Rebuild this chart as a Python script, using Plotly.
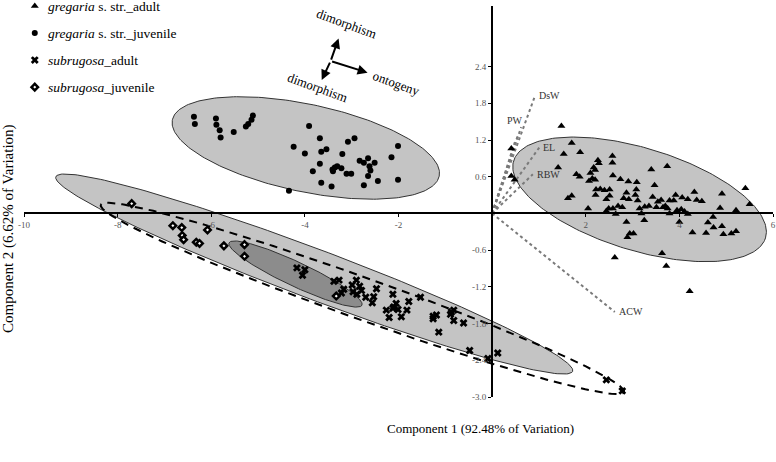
import numpy as np
import plotly.graph_objects as go

# --- PCA scores -------------------------------------------------------------
greg_adult_x = [1.48, 1.70, 1.88, 1.53, 2.26, 2.28, 2.57, 2.57, 2.17, 2.20, 2.10, 1.80, 1.87, 2.14,
                2.07, 2.20, 2.58, 2.74, 2.91, 3.09, 2.22, 2.31, 2.40, 2.51, 2.21, 2.51, 2.44, 2.87,
                3.08, 3.06, 3.11, 2.81, 2.92, 3.40, 3.74, 3.47, 1.62, 1.70, 2.05, 2.44, 2.49, 2.58,
                2.69, 2.78, 2.64, 3.15, 3.26, 3.35, 3.19, 3.43, 3.54, 3.61, 3.51, 3.65, 3.70, 3.75,
                3.79, 3.88, 3.92, 4.06, 4.18, 4.32, 4.37, 4.48, 3.95, 4.04, 4.11, 4.18, 4.00, 3.79,
                3.25, 2.87, 2.94, 3.02, 2.89, 3.63, 3.72, 2.62, 4.61, 4.72, 4.73, 4.91, 4.91, 4.87,
                5.21, 5.41, 5.50, 4.57, 4.28, 4.94, 5.11, 5.21, 0.41, 0.41, 0.48, 1.41, 4.22]
greg_adult_y = [1.43, 1.15, 1.00, 0.97, 0.87, 0.82, 0.94, 0.83, 0.75, 0.71, 0.66, 0.64, 0.60, 0.57,
                0.53, 0.55, 0.62, 0.56, 0.52, 0.51, 0.39, 0.40, 0.38, 0.39, 0.30, 0.29, 0.23, 0.34,
                0.39, 0.30, 0.21, 0.25, 0.23, 0.72, 0.77, 0.46, 0.25, 0.29, 0.08, 0.04, 0.08, 0.08,
                0.12, 0.10, -0.01, 0.08, 0.11, 0.12, 0.00, 0.27, 0.19, 0.22, 0.10, 0.10, 0.12, 0.08,
                0.21, 0.21, 0.30, 0.26, 0.23, 0.35, 0.22, 0.20, 0.05, 0.07, 0.03, -0.01, -0.14, 0.00,
                -0.11, -0.14, -0.33, -0.33, -0.39, -0.65, -0.86, -0.72, -0.15, -0.06, -0.23, -0.21, 0.32, 0.09,
                0.05, 0.41, 0.15, -0.32, -0.31, -0.34, -0.33, -0.29, 1.06, 0.61, 0.55, 0.75, -1.27]

greg_juv_x = [-5.11, -5.14, -5.21, -5.26, -5.52, -5.82, -5.80, -3.91, -3.68, -2.94, -3.08, -4.24,
              -4.00, -3.65, -3.54, -3.20, -2.01, -2.15, -2.83, -2.74, -2.65, -2.51, -2.62, -3.68,
              -3.41, -3.36, -3.31, -3.22, -3.40, -3.83, -3.11, -3.01, -2.60, -2.65, -2.44, -2.01,
              -2.74, -3.65, -3.43, -4.34, -6.37, -6.35, -5.90, -5.89]
greg_juv_y = [1.60, 1.53, 1.46, 1.42, 1.33, 1.36, 1.24, 1.43, 1.23, 1.23, 1.17, 1.09,
              0.98, 1.01, 1.05, 0.97, 1.10, 0.92, 0.86, 0.83, 0.90, 0.83, 0.77, 0.81,
              0.72, 0.75, 0.77, 0.74, 0.69, 0.69, 0.65, 0.65, 0.70, 0.61, 0.53, 0.55,
              0.46, 0.50, 0.44, 0.37, 1.58, 1.46, 1.55, 1.45]

sub_adult_x = [-4.17, -4.00, -4.05, -3.38, -3.27, -3.17, -3.22, -2.99, -2.90, -2.83, -2.97, -2.89,
               -2.79, -2.70, -2.53, -2.47, -2.56, -2.12, -2.05, -2.26, -2.12, -2.01, -1.82, -1.78,
               -1.53, -2.20, -1.94, -1.19, -2.10, -1.26, -1.26, -0.87, -0.82, -0.89, -0.82, -0.61,
               -1.14, -0.48, -0.09, 0.12, 2.44, 2.78]
sub_adult_y = [-0.89, -0.92, -1.01, -1.11, -1.09, -1.24, -1.30, -1.17, -1.09, -1.19, -1.28, -1.32,
               -1.26, -1.37, -1.36, -1.23, -1.46, -1.32, -1.47, -1.58, -1.55, -1.57, -1.58, -1.44,
               -1.37, -1.70, -1.69, -1.66, -1.53, -1.68, -1.72, -1.61, -1.58, -1.65, -1.75, -1.79,
               -1.94, -2.24, -2.37, -2.28, -2.72, -2.90]

sub_juv_x = [-6.82, -6.63, -6.62, -6.59, -6.32, -6.25, -6.08, -5.73, -5.29, -5.29, -7.70, -3.33]
sub_juv_y = [-0.20, -0.23, -0.36, -0.43, -0.47, -0.49, -0.27, -0.53, -0.51, -0.70, 0.16, -1.35]

# --- loading vectors --------------------------------------------------------
load_names = ["DsW", "PW", "", "", "EL", "RBW", "ACW"]
load_x = [0.92, 0.62, 0.56, 0.50, 1.01, 0.87, 2.62]
load_y = [1.93, 1.41, 1.30, 1.20, 1.08, 0.64, -1.61]

# --- 95% ellipses: centre and two conjugate semi-axes (data units) ---------
ell_greg_adult = dict(c=(3.15, 0.23), u=(2.69, -0.63), v=(0.32, 0.80))
ell_greg_juv = dict(c=(-3.98, 1.07), u=(2.85, -0.46), v=(0.19, 0.70))
ell_sub_adult_big = dict(c=(-3.80, -0.99), u=(5.52, -1.59), v=(0.19, 0.38))
ell_sub_inner = dict(c=(-4.20, -0.99), u=(1.42, -0.51), v=(0.11, 0.18))
ell_sub_dash = dict(c=(-2.77, -1.39), u=(5.59, -1.53), v=(0.15, 0.32))

x_ticks = [-10, -8, -6, -4, -2, 2, 4, 6]
y_ticks = [-3.0, -2.4, -1.8, -1.2, -0.6, 0.6, 1.2, 1.8, 2.4]

legend_labels = ["<i>gregaria</i> s. str._adult", "<i>gregaria</i> s. str._juvenile",
                 "<i>subrugosa</i>_adult", "<i>subrugosa</i>_juvenile"]

FONT = "Liberation Serif"
X_RANGE = [-10, 6]
Y_RANGE = [-3.0, 3.39]

MARKERS = [
    dict(symbol="triangle-up", size=7, color="black"),
    dict(symbol="circle", size=6, color="black"),
    dict(symbol="x", size=7, color="black"),
    dict(symbol="diamond", size=5, color="white", line=dict(color="black", width=2.5)),
]


def ellipse_xy(e, n=240):
    t = np.linspace(0, 2 * np.pi, n)
    x = e["c"][0] + e["u"][0] * np.cos(t) + e["v"][0] * np.sin(t)
    y = e["c"][1] + e["u"][1] * np.cos(t) + e["v"][1] * np.sin(t)
    return x, y


fig = go.Figure()

for e, fill in [(ell_greg_adult, "#c4c4c4"), (ell_greg_juv, "#c4c4c4"),
                (ell_sub_adult_big, "#c4c4c4"), (ell_sub_inner, "#8c8c8c")]:
    ex, ey = ellipse_xy(e)
    fig.add_trace(go.Scatter(x=ex, y=ey, mode="lines", fill="toself", fillcolor=fill,
                             line=dict(color="#333333", width=1), hoverinfo="skip"))

ex, ey = ellipse_xy(ell_sub_dash)
fig.add_trace(go.Scatter(x=ex, y=ey, mode="lines", line=dict(color="black", width=2, dash="8px,6px"),
                         hoverinfo="skip"))

for lx, ly in zip(load_x, load_y):
    fig.add_trace(go.Scatter(x=[0, lx], y=[0, ly], mode="lines",
                             line=dict(color="#7a7a7a", width=2, dash="dot"), hoverinfo="skip"))

groups = [(greg_adult_x, greg_adult_y), (greg_juv_x, greg_juv_y),
          (sub_adult_x, sub_adult_y), (sub_juv_x, sub_juv_y)]
for (gx, gy), mk, label in zip(groups, MARKERS, legend_labels):
    fig.add_trace(go.Scatter(x=gx, y=gy, mode="markers", name=label, marker=mk))

# legend drawn in the upper-left corner of the plot
leg_sym_x, leg_txt_x, leg_top, leg_step = -9.77, -9.53, 3.39, 0.442
for i, (mk, label) in enumerate(zip(MARKERS, legend_labels)):
    ly = leg_top - i * leg_step
    fig.add_trace(go.Scatter(x=[leg_sym_x], y=[ly], mode="markers", marker=mk,
                             cliponaxis=False, hoverinfo="skip"))
    fig.add_annotation(x=leg_txt_x, y=ly, text=label, showarrow=False, xanchor="left",
                       yanchor="middle", font=dict(family=FONT, size=13.5, color="black"))

# loading labels
for name, lx, ly in zip(load_names, load_x, load_y):
    if name:
        fig.add_annotation(x=lx, y=ly, text=name, showarrow=False, xanchor="left",
                           xshift=2 if name != "PW" else -16, yshift=0 if name != "PW" else 7,
                           font=dict(family=FONT, size=10, color="#333333"))

# ontogeny / dimorphism key
hub = (-3.45, 2.49)
for tip in [(-3.28, 2.86), (-3.64, 2.18), (-2.66, 2.30)]:
    fig.add_annotation(x=tip[0], y=tip[1], ax=hub[0], ay=hub[1], axref="x", ayref="y",
                       showarrow=True, arrowhead=2, arrowsize=1, arrowwidth=2,
                       arrowcolor="black", text="")
for txt, tx, ty in [("dimorphism", -3.12, 3.10), ("dimorphism", -3.73, 2.05), ("ontogeny", -2.04, 2.13)]:
    fig.add_annotation(x=tx, y=ty, text=txt, showarrow=False, textangle=20,
                       font=dict(family=FONT, size=13, color="black"))

# axis titles
fig.add_annotation(x=0.61, y=-0.08, xref="paper", yref="paper", yanchor="middle",
                   text="Component 1 (92.48% of Variation)", showarrow=False,
                   font=dict(family=FONT, size=13, color="black"))
fig.add_annotation(x=-0.02, y=0.43, xref="paper", yref="paper", xanchor="center",
                   yanchor="middle", textangle=-90,
                   text="Component 2 (6.62% of Variation)", showarrow=False,
                   font=dict(family=FONT, size=15, color="black"))

x_pos = (0 - Y_RANGE[0]) / (Y_RANGE[1] - Y_RANGE[0])
y_pos = (0 - X_RANGE[0]) / (X_RANGE[1] - X_RANGE[0])

fig.update_layout(
    width=776, height=462,
    margin=dict(l=24, r=3, t=6, b=65, autoexpand=False),
    paper_bgcolor="white", plot_bgcolor="white",
    font=dict(family=FONT, size=13, color="black"),
    showlegend=False,
    hovermode=False,
    xaxis=dict(range=X_RANGE, anchor="free", position=x_pos, showgrid=False, zeroline=False,
               showline=True, linecolor="black", linewidth=2, ticks="outside", ticklen=3,
               tickcolor="black", tickvals=x_ticks, ticktext=[str(v) for v in x_ticks],
               tickfont=dict(family=FONT, size=9, color="#555555")),
    yaxis=dict(range=Y_RANGE, anchor="free", position=y_pos, showgrid=False, zeroline=False,
               showline=True, linecolor="black", linewidth=2, ticks="outside", ticklen=3,
               tickcolor="black", tickvals=y_ticks, ticktext=[f"{v:.1f}" for v in y_ticks],
               tickfont=dict(family=FONT, size=9, color="#555555")),
)

fig.write_html("out.html", config={"displayModeBar": False},
               post_script="document.body.style.margin = '0';")
